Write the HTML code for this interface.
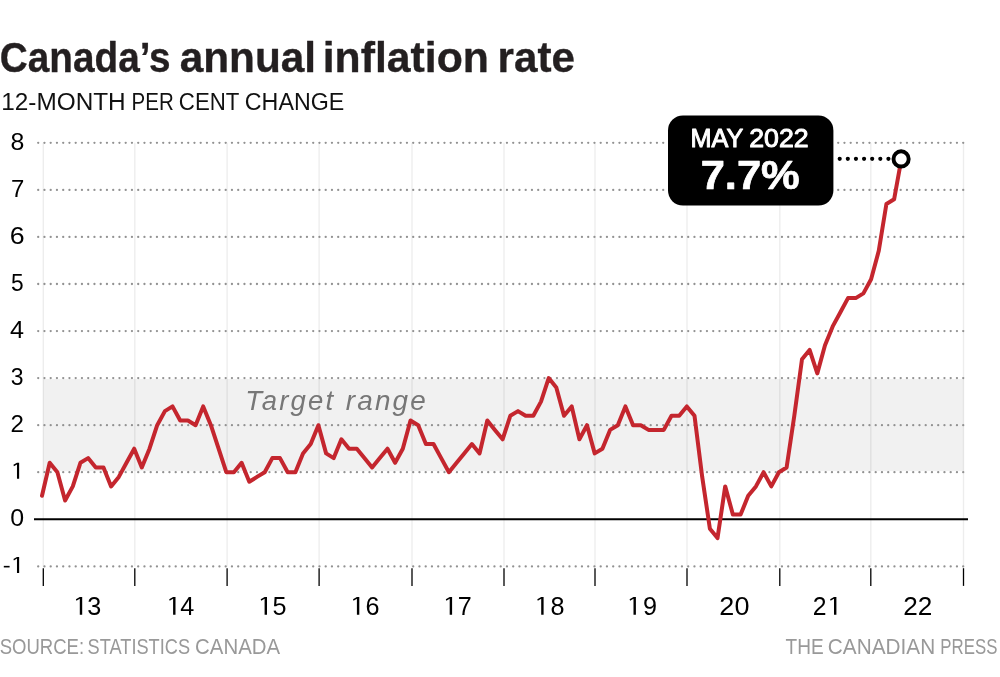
<!DOCTYPE html>
<html><head><meta charset="utf-8"><title>Canada's annual inflation rate</title>
<style>
html,body{margin:0;padding:0;background:#fff;}
body{width:1000px;height:677px;overflow:hidden;font-family:"Liberation Sans",sans-serif;}
svg{display:block;will-change:transform;}
text{font-family:"Liberation Sans",sans-serif;}
</style></head><body>
<svg width="1000" height="677" viewBox="0 0 1000 677">
<rect width="1000" height="677" fill="#fff"/>
<rect x="43.3" y="379.0" width="920.2" height="92.1" fill="#f1f1f1"/>
<line x1="43.3" y1="142.8" x2="43.3" y2="566.4" stroke="#000" stroke-opacity="0.072" stroke-width="1.4"/>
<line x1="134.8" y1="142.8" x2="134.8" y2="566.4" stroke="#000" stroke-opacity="0.072" stroke-width="1.4"/>
<line x1="227.1" y1="142.8" x2="227.1" y2="566.4" stroke="#000" stroke-opacity="0.072" stroke-width="1.4"/>
<line x1="319.1" y1="142.8" x2="319.1" y2="566.4" stroke="#000" stroke-opacity="0.072" stroke-width="1.4"/>
<line x1="412.0" y1="142.8" x2="412.0" y2="566.4" stroke="#000" stroke-opacity="0.072" stroke-width="1.4"/>
<line x1="504.0" y1="142.8" x2="504.0" y2="566.4" stroke="#000" stroke-opacity="0.072" stroke-width="1.4"/>
<line x1="595.0" y1="142.8" x2="595.0" y2="566.4" stroke="#000" stroke-opacity="0.072" stroke-width="1.4"/>
<line x1="687.0" y1="142.8" x2="687.0" y2="566.4" stroke="#000" stroke-opacity="0.072" stroke-width="1.4"/>
<line x1="779.8" y1="142.8" x2="779.8" y2="566.4" stroke="#000" stroke-opacity="0.072" stroke-width="1.4"/>
<line x1="870.8" y1="142.8" x2="870.8" y2="566.4" stroke="#000" stroke-opacity="0.072" stroke-width="1.4"/>
<line x1="963.5" y1="142.8" x2="963.5" y2="566.4" stroke="#000" stroke-opacity="0.072" stroke-width="1.4"/>
<line x1="38.2" y1="142.8" x2="964.5" y2="142.8" stroke="#929292" stroke-width="2.3" stroke-linecap="round" stroke-dasharray="0.01 6.24"/>
<line x1="38.2" y1="189.9" x2="964.5" y2="189.9" stroke="#929292" stroke-width="2.3" stroke-linecap="round" stroke-dasharray="0.01 6.24"/>
<line x1="38.2" y1="236.9" x2="964.5" y2="236.9" stroke="#929292" stroke-width="2.3" stroke-linecap="round" stroke-dasharray="0.01 6.24"/>
<line x1="38.2" y1="284.0" x2="964.5" y2="284.0" stroke="#929292" stroke-width="2.3" stroke-linecap="round" stroke-dasharray="0.01 6.24"/>
<line x1="38.2" y1="331.1" x2="964.5" y2="331.1" stroke="#929292" stroke-width="2.3" stroke-linecap="round" stroke-dasharray="0.01 6.24"/>
<line x1="38.2" y1="378.1" x2="964.5" y2="378.1" stroke="#929292" stroke-width="2.3" stroke-linecap="round" stroke-dasharray="0.01 6.24"/>
<line x1="38.2" y1="425.2" x2="964.5" y2="425.2" stroke="#929292" stroke-width="2.3" stroke-linecap="round" stroke-dasharray="0.01 6.24"/>
<line x1="38.2" y1="472.2" x2="964.5" y2="472.2" stroke="#929292" stroke-width="2.3" stroke-linecap="round" stroke-dasharray="0.01 6.24"/>
<line x1="38.2" y1="566.4" x2="964.5" y2="566.4" stroke="#929292" stroke-width="2.3" stroke-linecap="round" stroke-dasharray="0.01 6.24"/>
<line x1="34" y1="519.2" x2="968" y2="519.2" stroke="#000" stroke-width="2"/>
<line x1="43.3" y1="568.2" x2="43.3" y2="585.9" stroke="#000" stroke-width="1.3"/>
<line x1="134.8" y1="568.2" x2="134.8" y2="585.9" stroke="#000" stroke-width="1.3"/>
<line x1="227.1" y1="568.2" x2="227.1" y2="585.9" stroke="#000" stroke-width="1.3"/>
<line x1="319.1" y1="568.2" x2="319.1" y2="585.9" stroke="#000" stroke-width="1.3"/>
<line x1="412.0" y1="568.2" x2="412.0" y2="585.9" stroke="#000" stroke-width="1.3"/>
<line x1="504.0" y1="568.2" x2="504.0" y2="585.9" stroke="#000" stroke-width="1.3"/>
<line x1="595.0" y1="568.2" x2="595.0" y2="585.9" stroke="#000" stroke-width="1.3"/>
<line x1="687.0" y1="568.2" x2="687.0" y2="585.9" stroke="#000" stroke-width="1.3"/>
<line x1="779.8" y1="568.2" x2="779.8" y2="585.9" stroke="#000" stroke-width="1.3"/>
<line x1="870.8" y1="568.2" x2="870.8" y2="585.9" stroke="#000" stroke-width="1.3"/>
<line x1="963.5" y1="568.2" x2="963.5" y2="585.9" stroke="#000" stroke-width="1.3"/>
<text transform="translate(245.34,409.50) scale(0.9823,1)" font-size="28" fill="#777" letter-spacing="2.2" font-style="italic">Target</text>
<text transform="translate(345.70,409.50) scale(0.9968,1)" font-size="28" fill="#777" letter-spacing="2.2" font-style="italic">range</text>
<polyline points="42.0,495.8 49.7,462.8 57.4,472.2 65.1,500.5 72.8,486.4 80.4,462.8 88.1,458.1 95.8,467.5 103.5,467.5 111.1,486.4 118.8,476.9 126.5,462.8 134.2,448.7 141.8,467.5 149.5,448.7 157.2,425.2 164.9,411.1 172.5,406.4 180.2,420.5 187.9,420.5 195.6,425.2 203.2,406.4 210.9,425.2 218.6,448.7 226.3,472.2 233.9,472.2 241.6,462.8 249.3,481.7 257.0,476.9 264.7,472.2 272.3,458.1 280.0,458.1 287.7,472.2 295.4,472.2 303.0,453.4 310.7,444.0 318.4,425.2 326.1,453.4 333.7,458.1 341.4,439.3 349.1,448.7 356.8,448.7 364.4,458.1 372.1,467.5 379.8,458.1 387.5,448.7 395.1,462.8 402.8,448.7 410.5,420.5 418.2,425.2 425.9,444.0 433.5,444.0 441.2,458.1 448.9,472.2 456.6,462.8 464.2,453.4 471.9,444.0 479.6,453.4 487.3,420.5 494.9,429.9 502.6,439.3 510.3,415.8 518.0,411.1 525.6,415.8 533.3,415.8 541.0,401.6 548.7,378.1 556.3,387.5 564.0,415.8 571.7,406.4 579.4,439.3 587.0,425.2 594.7,453.4 602.4,448.7 610.1,429.9 617.8,425.2 625.4,406.4 633.1,425.2 640.8,425.2 648.5,429.9 656.1,429.9 663.8,429.9 671.5,415.8 679.2,415.8 686.8,406.4 694.5,415.8 702.2,476.9 709.9,528.7 717.5,538.1 725.2,486.4 732.9,514.6 740.6,514.6 748.2,495.8 755.9,486.4 763.6,472.2 771.3,486.4 778.9,472.2 786.6,467.5 794.3,415.8 802.0,359.3 809.6,349.9 817.3,373.4 825.0,345.2 832.7,326.4 840.4,312.2 848.0,298.1 855.7,298.1 863.4,293.4 871.1,279.3 878.7,251.1 886.4,204.0 894.1,199.3 901.8,156.9" fill="none" stroke="#c4262e" stroke-width="4" stroke-linejoin="round" stroke-linecap="round"/>
<rect x="668" y="115.4" width="165.4" height="90.2" rx="15" ry="15" fill="#000"/>
<line x1="839.7" y1="158.8" x2="889" y2="158.8" stroke="#000" stroke-width="4.2" stroke-linecap="round" stroke-dasharray="0.01 8.11"/>
<circle cx="901.1" cy="158.9" r="7.6" fill="#fff" stroke="#000" stroke-width="3.9"/>
<text transform="translate(-0.13,72.40) scale(0.9306,1)" font-size="41.6" fill="#231f20" stroke="#231f20" stroke-width="0.35" stroke-linejoin="round" font-weight="bold">Canada’s</text>
<text transform="translate(179.73,72.40) scale(1.0173,1)" font-size="41.6" fill="#231f20" stroke="#231f20" stroke-width="0.35" stroke-linejoin="round" font-weight="bold">annual</text>
<text transform="translate(322.72,72.40) scale(1.0278,1)" font-size="41.6" fill="#231f20" stroke="#231f20" stroke-width="0.35" stroke-linejoin="round" font-weight="bold">inflation</text>
<text transform="translate(497.61,72.40) scale(1.0131,1)" font-size="41.6" fill="#231f20" stroke="#231f20" stroke-width="0.35" stroke-linejoin="round" font-weight="bold">rate</text>
<text transform="translate(1.25,110.40) scale(0.9983,1)" font-size="24.4" fill="#111">12-MONTH</text>
<text transform="translate(131.62,110.40) scale(0.8404,1)" font-size="24.4" fill="#111">PER</text>
<text transform="translate(178.86,110.40) scale(0.9116,1)" font-size="24.4" fill="#111">CENT</text>
<text transform="translate(244.81,110.40) scale(0.9529,1)" font-size="24.4" fill="#111">CHANGE</text>
<text transform="translate(-0.35,653.80) scale(0.8509,1)" font-size="21.8" fill="#999">SOURCE:</text>
<text transform="translate(87.56,653.80) scale(0.8364,1)" font-size="21.8" fill="#999">STATISTICS</text>
<text transform="translate(195.06,653.80) scale(0.9359,1)" font-size="21.8" fill="#999">CANADA</text>
<text transform="translate(785.56,653.80) scale(0.8734,1)" font-size="21.8" fill="#999">THE</text>
<text transform="translate(827.85,653.80) scale(0.9531,1)" font-size="21.8" fill="#999">CANADIAN</text>
<text transform="translate(940.35,653.80) scale(0.7719,1)" font-size="21.8" fill="#999">PRESS</text>
<text transform="translate(690.57,147.25) scale(0.9699,1)" font-size="26" fill="#fff" stroke="#fff" stroke-width="1.0" stroke-linejoin="round">MAY</text>
<text transform="translate(749.22,147.25) scale(1.0262,1)" font-size="26" fill="#fff" stroke="#fff" stroke-width="1.0" stroke-linejoin="round">2022</text>
<text transform="translate(700.64,189.40) scale(1.0608,1)" font-size="41" fill="#fff" stroke="#fff" stroke-width="0.7" stroke-linejoin="round" font-weight="bold">7.7%</text>
<text transform="translate(10.55,149.72) scale(1.0545,1)" font-size="23.6" fill="#000">8</text>
<text transform="translate(10.93,196.78) scale(1.0140,1)" font-size="23.6" fill="#000">7</text>
<text transform="translate(9.78,243.84) scale(1.1349,1)" font-size="23.6" fill="#000">6</text>
<text transform="translate(11.04,290.90) scale(0.9636,1)" font-size="23.6" fill="#000">5</text>
<text transform="translate(10.07,337.96) scale(1.0667,1)" font-size="23.6" fill="#000">4</text>
<text transform="translate(10.83,385.02) scale(0.9727,1)" font-size="23.6" fill="#000">3</text>
<text transform="translate(10.52,432.08) scale(1.0233,1)" font-size="23.6" fill="#000">2</text>
<text transform="translate(10.14,526.20) scale(1.0578,1)" font-size="23.6" fill="#000">0</text>
<text transform="translate(87.30,614.70) scale(1.0000,1)" font-size="25.2" fill="#000">3</text>
<text transform="translate(180.35,614.70) scale(1.0000,1)" font-size="25.2" fill="#000">4</text>
<text transform="translate(272.50,614.70) scale(1.0000,1)" font-size="25.2" fill="#000">5</text>
<text transform="translate(365.60,614.70) scale(1.0000,1)" font-size="25.2" fill="#000">6</text>
<text transform="translate(457.85,614.70) scale(1.0000,1)" font-size="25.2" fill="#000">7</text>
<text transform="translate(550.40,614.70) scale(1.0000,1)" font-size="25.2" fill="#000">8</text>
<text transform="translate(642.95,614.70) scale(1.0000,1)" font-size="25.2" fill="#000">9</text>
<text transform="translate(719.36,614.70) scale(1.0718,1)" font-size="25.2" fill="#000">20</text>
<text transform="translate(812.67,614.70) scale(0.9826,1)" font-size="25.2" fill="#000">2</text>
<text transform="translate(903.30,614.70) scale(1.0392,1)" font-size="25.2" fill="#000">22</text>
<path transform="translate(13.45,478.84) scale(0.9040)" d="M3.9,-17.7 H6.3 V0 H3.9 V-15.9 L0.5,-13.9 L0,-15.5 Z" fill="#000"/>
<path transform="translate(13.45,572.96) scale(0.9040)" d="M3.9,-17.7 H6.3 V0 H3.9 V-15.9 L0.5,-13.9 L0,-15.5 Z" fill="#000"/>
<rect x="3.8" y="565.86" width="5.8" height="1.6" fill="#000"/>
<path transform="translate(75.90,614.70) scale(1.0000)" d="M3.9,-17.7 H6.3 V0 H3.9 V-15.9 L0.5,-13.9 L0,-15.5 Z" fill="#000"/>
<path transform="translate(169.20,614.70) scale(1.0000)" d="M3.9,-17.7 H6.3 V0 H3.9 V-15.9 L0.5,-13.9 L0,-15.5 Z" fill="#000"/>
<path transform="translate(260.70,614.70) scale(1.0000)" d="M3.9,-17.7 H6.3 V0 H3.9 V-15.9 L0.5,-13.9 L0,-15.5 Z" fill="#000"/>
<path transform="translate(353.00,614.70) scale(1.0000)" d="M3.9,-17.7 H6.3 V0 H3.9 V-15.9 L0.5,-13.9 L0,-15.5 Z" fill="#000"/>
<path transform="translate(445.80,614.70) scale(1.0000)" d="M3.9,-17.7 H6.3 V0 H3.9 V-15.9 L0.5,-13.9 L0,-15.5 Z" fill="#000"/>
<path transform="translate(537.30,614.70) scale(1.0000)" d="M3.9,-17.7 H6.3 V0 H3.9 V-15.9 L0.5,-13.9 L0,-15.5 Z" fill="#000"/>
<path transform="translate(629.60,614.70) scale(1.0000)" d="M3.9,-17.7 H6.3 V0 H3.9 V-15.9 L0.5,-13.9 L0,-15.5 Z" fill="#000"/>
<path transform="translate(830.10,614.70) scale(1.0000)" d="M3.9,-17.7 H6.3 V0 H3.9 V-15.9 L0.5,-13.9 L0,-15.5 Z" fill="#000"/>
</svg></body></html>
